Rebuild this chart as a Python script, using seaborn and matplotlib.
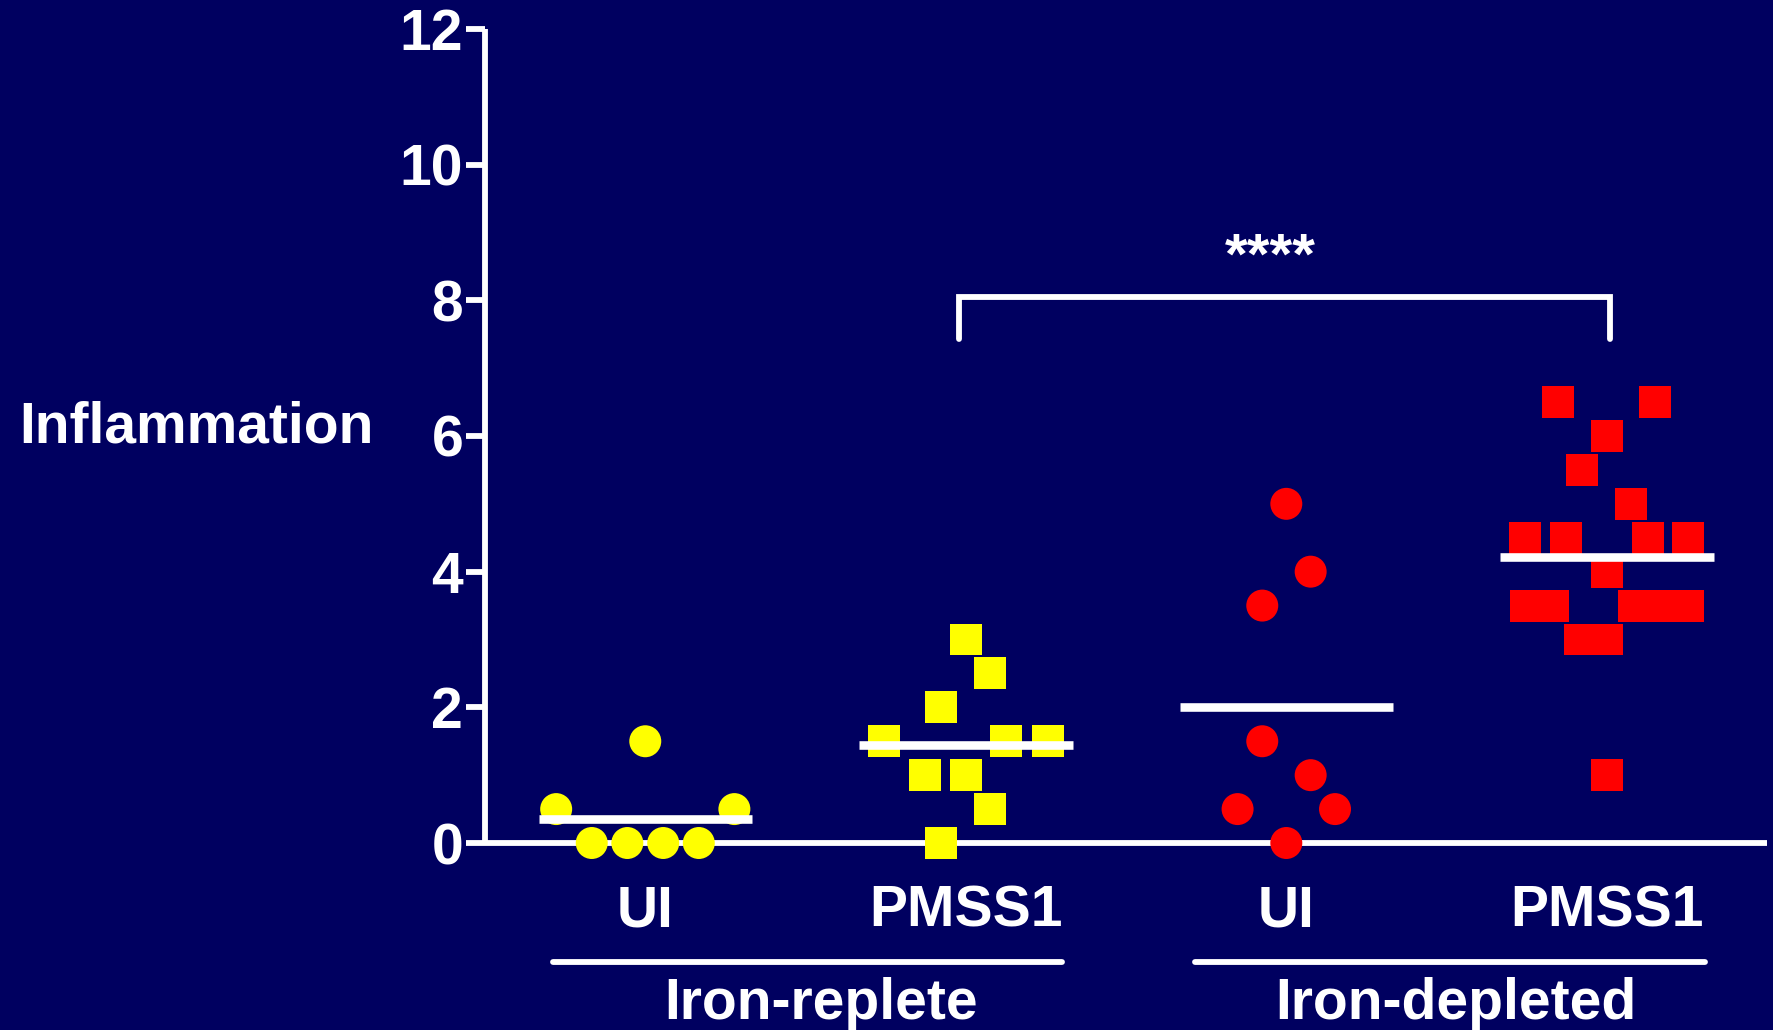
import numpy as np
import pandas as pd
import seaborn as sns
import matplotlib.pyplot as plt

# values, one list per group; jitter is the sideways
# spread of each dot (in category widths) as drawn in the original
iron = ['Iron-replete', 'Iron-replete', 'Iron-depleted', 'Iron-depleted']
infection = ['UI', 'PMSS1', 'UI', 'PMSS1']

ui_rep_values = [1.5, 0.5, 0.5, 0, 0, 0, 0]
ui_rep_jitter = [0, -0.278, 0.278, -0.167, -0.056, 0.056, 0.167]

pmss_rep_values = [3, 2.5, 2, 1.5, 1.5, 1.5, 1, 1, 0.5, 0]
pmss_rep_jitter = [0, 0.075, -0.076, -0.255, 0.126, 0.255, -0.128, 0, 0.076, -0.077]

ui_dep_values = [5, 4, 3.5, 1.5, 1, 0.5, 0.5, 0]
ui_dep_jitter = [0, 0.076, -0.075, -0.075, 0.076, -0.152, 0.152, 0]

pmss_dep_values = [6.5, 6.5, 6, 5.5, 5, 4.5, 4.5, 4.5, 4.5, 4,
                   3.5, 3.5, 3.5, 3.5, 3.5, 3, 3, 1]
pmss_dep_jitter = [-0.151, 0.151, 0, -0.076, 0.075, -0.255, -0.128, 0.127, 0.254, 0,
                   -0.252, -0.168, 0.084, 0.168, 0.252, -0.084, 0, 0]

y_ticks = [0, 2, 4, 6, 8, 10, 12]
significance = '****'

BG = '#000060'
WHITE = 'white'
FONT = ['Liberation Sans', 'DejaVu Sans']
FS = 41
LW = 4.2

sns.set_style('ticks')
plt.rcParams['font.family'] = FONT
plt.rcParams['font.weight'] = 'bold'

rows = []
for i, (vals, jit) in enumerate([(ui_rep_values, ui_rep_jitter),
                                 (pmss_rep_values, pmss_rep_jitter),
                                 (ui_dep_values, ui_dep_jitter),
                                 (pmss_dep_values, pmss_dep_jitter)]):
    for v, j in zip(vals, jit):
        rows.append({'pos': i, 'x': i + j, 'value': v,
                     'iron': iron[i], 'infection': infection[i]})
df = pd.DataFrame(rows)

fig = plt.figure(figsize=(17.74, 10.30), dpi=100, facecolor=BG)
ax = fig.add_axes([0.2734, 0.18155, 0.7227, 0.7903])
ax.set_facecolor(BG)

sns.scatterplot(
    data=df, x='x', y='value',
    hue='iron', palette={'Iron-replete': '#FFFF00', 'Iron-depleted': '#FF0000'},
    style='infection', markers={'UI': 'o', 'PMSS1': 's'},
    s=530, linewidth=0, legend=False, clip_on=False, zorder=3, ax=ax
)

means = df.groupby('pos')['value'].mean()
ax.hlines(means.values, means.index - 0.333, means.index + 0.333,
          colors=WHITE, linewidth=6.2, zorder=4, clip_on=False)

# significance bracket between the two infected groups
ax.plot([0.98, 0.98, 3.01, 3.01], [7.43, 8.05, 8.05, 7.43], color=WHITE,
        lw=LW, solid_capstyle='round', solid_joinstyle='miter', clip_on=False)
ax.text(1.95, 8.40, significance, color=WHITE, fontsize=FS + 1, fontweight='bold',
        ha='center', va='baseline')

ax.set_xlim(-0.5, 3.5)
ax.set_ylim(0, 12)
ax.set_yticks(y_ticks)
ax.set_xticks(range(4))
ax.set_xticklabels(infection)
ax.set_xlabel('')
ax.set_ylabel('Inflammation', rotation=0, fontsize=FS, fontweight='bold',
              color=WHITE, ha='left', va='baseline')
ax.yaxis.set_label_coords(-0.363, 0.4914)

for side in ['top', 'right']:
    ax.spines[side].set_visible(False)
for side in ['left', 'bottom']:
    ax.spines[side].set_color(WHITE)
    ax.spines[side].set_linewidth(LW)
    ax.spines[side].set_capstyle('butt')

ax.tick_params(axis='y', colors=WHITE, labelsize=FS, length=13.7, width=LW, pad=2)
ax.tick_params(axis='x', colors=WHITE, labelsize=FS, length=0, pad=30)
for lab in ax.get_xticklabels() + ax.get_yticklabels():
    lab.set_fontweight('bold')

# group underlines and labels below the category names
for (x0, x1), xc, name in zip([(-0.288, 1.30), (1.715, 3.306)], [0.55, 2.53],
                              ['Iron-replete', 'Iron-depleted']):
    ax.plot([x0, x1], [-1.754, -1.754], color=WHITE, lw=LW,
            solid_capstyle='round', clip_on=False)
    ax.text(xc, -2.60, name, color=WHITE, fontsize=FS, fontweight='bold',
            ha='center', va='baseline', clip_on=False)

fig.savefig('out.png', dpi=100, facecolor=BG)
